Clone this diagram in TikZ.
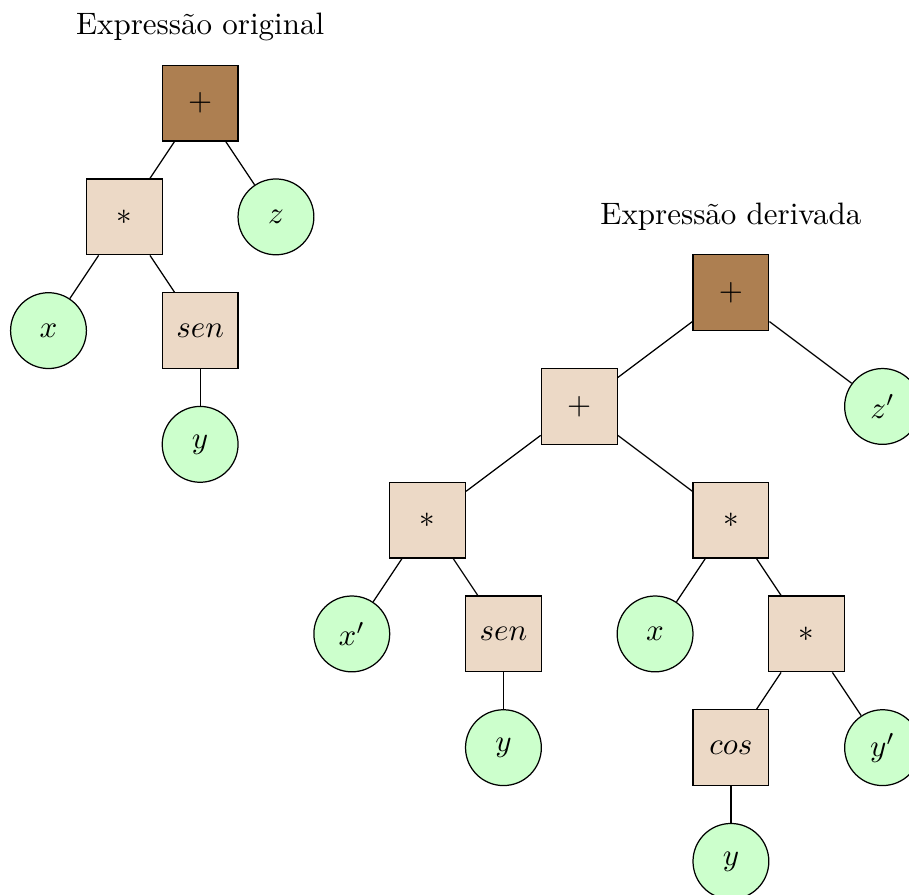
\documentclass[tikz,border=0pt]{standalone}
\usepackage{tikz}
\usetikzlibrary{positioning}

\definecolor{marrom}{RGB}{173,127,81}

\begin{document}
\begin{tikzpicture}[opno/.style={rectangle, draw, fill=brown!30, minimum size=0.86cm}, raizno/.style={opno, fill=marrom}, folha/.style={circle, draw, fill=green!20, minimum size=0.86cm}, node distance=1.29cm and 0.86cm, on grid]

\useasboundingbox (-2.27,-8.97) rectangle (8.04,1.17);

% original expression
\node[raizno] (soma) {$+$};
\node[above=0.86cm of soma] (titulo1) {Expressão original};
\node[opno, below left=of soma] (mult) {$*$};
\node[folha, below right=of soma] (z) {$z$};
\node[folha, below left=of mult] (x) {$x$};
\node[opno, below right=of mult] (sen) {$sen$};
\node[folha, below=of sen] (y) {$y$};

% derived expression
\node[raizno, below right=2.15cm and 6.02cm of soma] (dsoma) {$+$};
\node[above=0.86cm of dsoma] (titulo2) {Expressão derivada};
\node[opno, below left=1.29cm and 1.72cm of dsoma] (dsoma2) {$+$};
\node[folha, below right=1.29cm and 1.72cm of dsoma] (dz) {$z'$};
\node[opno, below left=1.29cm and 1.72cm of dsoma2] (dmult1) {$*$};
\node[opno, below right=1.29cm and 1.72cm of dsoma2] (dmult2) {$*$};
\node[folha, below left=of dmult1] (dx) {$x'$};
\node[opno, below right=of dmult1] (dsen) {$sen$};
\node[folha, below=of dsen] (dy1) {$y$};
\node[folha, below left=of dmult2] (x2) {$x$};
\node[opno, below right=of dmult2] (dmult3) {$*$};
\node[opno, below left=of dmult3] (cos) {$cos$};
\node[folha, below right=of dmult3] (dy) {$y'$};
\node[folha, below=of cos] (y2) {$y$};

\draw (soma) -- (mult);
\draw (soma) -- (z);
\draw (mult) -- (x);
\draw (mult) -- (sen);
\draw (sen) -- (y);

\draw (dsoma) -- (dsoma2);
\draw (dsoma) -- (dz);
\draw (dsoma2) -- (dmult1);
\draw (dsoma2) -- (dmult2);
\draw (dmult1) -- (dx);
\draw (dmult1) -- (dsen);
\draw (dsen) -- (dy1);
\draw (dmult2) -- (x2);
\draw (dmult2) -- (dmult3);
\draw (dmult3) -- (cos);
\draw (dmult3) -- (dy);
\draw (cos) -- (y2);

\end{tikzpicture}
\end{document}
